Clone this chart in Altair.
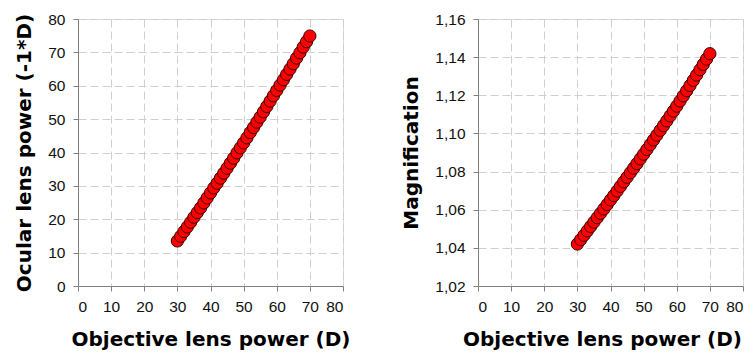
import altair as alt
import pandas as pd

objective = list(range(30, 71))
ocular = [13.5, 14.9, 16.3, 17.7, 19.1, 20.6, 22.0, 23.4, 24.9, 26.4,
          27.9, 29.4, 30.8, 32.3, 33.8, 35.3, 36.8, 38.3, 39.9, 41.4,
          42.9, 44.4, 46.0, 47.5, 49.1, 50.6, 52.2, 53.8, 55.4, 57.0,
          58.6, 60.2, 61.8, 63.4, 65.0, 66.6, 68.3, 69.9, 71.6, 73.2, 74.9]
magnification = [1.0420, 1.0443, 1.0466, 1.0489, 1.0512, 1.0535, 1.0558, 1.0581, 1.0604, 1.0627,
                 1.0651, 1.0674, 1.0698, 1.0722, 1.0746, 1.0770, 1.0794, 1.0818, 1.0842, 1.0867,
                 1.0891, 1.0916, 1.0941, 1.0966, 1.0991, 1.1016, 1.1041, 1.1066, 1.1092, 1.1117,
                 1.1143, 1.1170, 1.1197, 1.1224, 1.1251, 1.1278, 1.1306, 1.1334, 1.1362, 1.1390, 1.1418]

x_ticks = [0, 10, 20, 30, 40, 50, 60, 70, 80]
y1_ticks = [0, 10, 20, 30, 40, 50, 60, 70, 80]
y2_ticks = [1.02, 1.04, 1.06, 1.08, 1.10, 1.12, 1.14, 1.16]

df = pd.DataFrame({"objective": objective, "ocular": ocular, "mag": magnification})

LFONT = "Liberation Sans"
TFONT = "DejaVu Sans"
W, H = 265, 267

def axis_common(**kw):
    return alt.Axis(
        grid=True, gridColor="#cfcfcf", gridDash=[8, 4], gridWidth=1,
        domainColor="#808080", tickColor="#808080", tickSize=5,
        labelFont=LFONT, labelFontSize=15.5, labelColor="#111111",
        titleFont=TFONT, titleFontSize=20, titleFontWeight="bold", titleColor="#000000",
        **kw)

xaxis_left = axis_common(values=x_ticks, title="Objective lens power (D)", labelPadding=8, titlePadding=15)
xaxis_right = axis_common(values=x_ticks, title="Objective lens power (D)", labelPadding=8, titlePadding=15,
                          titleX=124)

mark = dict(filled=True, fill="#ff0000", stroke="#3a0000", strokeWidth=1, size=150, opacity=1)

left = alt.Chart(df).mark_point(**mark).encode(
    x=alt.X("objective:Q", scale=alt.Scale(domain=[0, 80], nice=False), axis=xaxis_left),
    y=alt.Y("ocular:Q", scale=alt.Scale(domain=[0, 80], nice=False),
            axis=axis_common(values=y1_ticks, title="Ocular lens power (-1*D)",
                             labelPadding=8, titlePadding=13)),
).properties(width=W, height=H)

right = alt.Chart(df).mark_point(**mark).encode(
    x=alt.X("objective:Q", scale=alt.Scale(domain=[0, 80], nice=False), axis=xaxis_right),
    y=alt.Y("mag:Q", scale=alt.Scale(domain=[1.02, 1.16], nice=False, zero=False),
            axis=axis_common(values=y2_ticks, title="Magnification", labelPadding=8, titlePadding=13,
                             labelExpr="replace(format(datum.value, '.2f'), '.', ',')")),
).properties(width=W, height=H)

chart = alt.hconcat(left, right, spacing=50).configure_view(
    stroke="#808080", strokeWidth=1
).properties(
    autosize=alt.AutoSizeParams(type="none")
).configure(padding={"left": 70, "top": 11, "right": 667, "bottom": 330}, background="white")

chart.save("out.html", embed_options={"renderer": "svg", "actions": False})
